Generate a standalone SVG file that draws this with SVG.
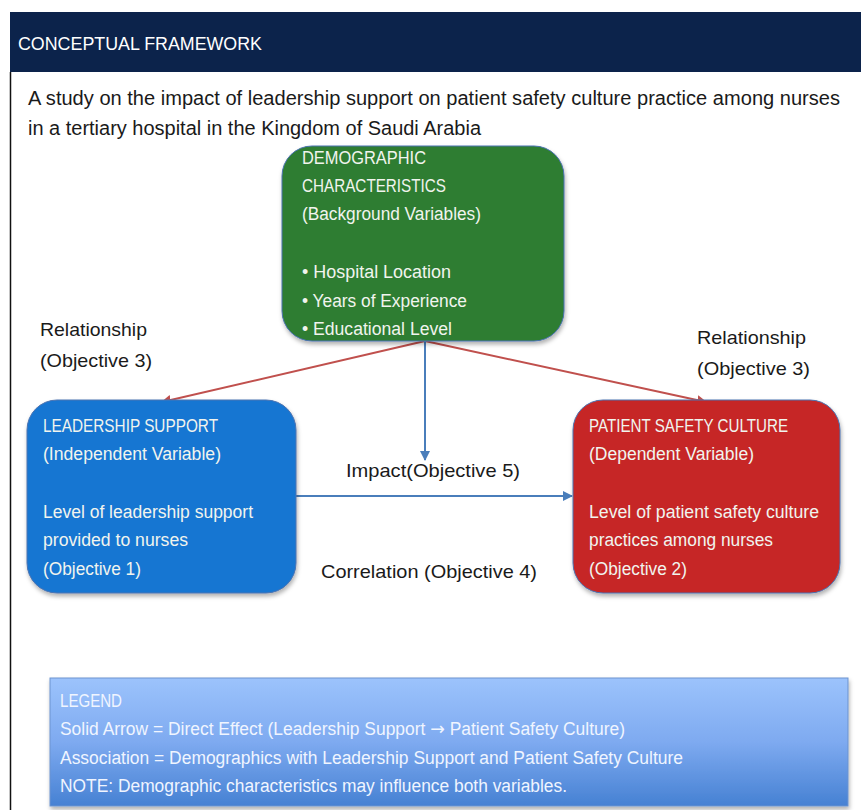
<svg xmlns="http://www.w3.org/2000/svg" width="861" height="810" viewBox="0 0 861 810">
  <defs>
    <style>
      text { font-family: "Liberation Sans", "Open Sans", sans-serif; }
      .ttl { font-size: 19px; fill: #ffffff; }
      .sub { font-size: 20px; fill: #1a1a1a; }
      .lbl { font-size: 19px; fill: #1a1a1a; }
      .box { font-size: 18px; fill: #f1f4ee; }
      .leg { font-size: 18px; fill: #f0f5ff; }
      .sym { font-family: "DejaVu Sans", sans-serif; }
      .node { stroke: #4a72b0; stroke-width: 1; }
      .red { stroke: #c0504d; stroke-width: 2; fill: none; }
      .blu { stroke: #4a7ebb; stroke-width: 2; fill: none; }
    </style>
    <marker id="ahRed" viewBox="0 0 10 10" refX="9" refY="5" markerWidth="5" markerHeight="5" orient="auto">
      <path d="M0,0 L10,5 L0,10 z" fill="#c0504d"/>
    </marker>
    <marker id="ahBlue" viewBox="0 0 10 10" refX="9" refY="5" markerWidth="5" markerHeight="5" orient="auto">
      <path d="M0,0 L10,5 L0,10 z" fill="#4a7ebb"/>
    </marker>
    <linearGradient id="legGrad" x1="0" y1="0" x2="0" y2="1">
      <stop offset="0" stop-color="#9cc3fc"/>
      <stop offset="0.5" stop-color="#7eaaf0"/>
      <stop offset="1" stop-color="#4681d3"/>
    </linearGradient>
    <filter id="shadow" x="-10%" y="-10%" width="125%" height="130%">
      <feDropShadow dx="1" dy="3" stdDeviation="2" flood-color="#000" flood-opacity="0.3"/>
    </filter>
  </defs>

  <rect x="0" y="0" width="861" height="810" fill="#ffffff"/>

  <!-- frame: header bar and left rule -->
  <g id="header">
    <rect x="10" y="12" width="851" height="60" fill="#0c234b"/>
    <line x1="10.5" y1="72" x2="10.5" y2="810" stroke="#111" stroke-width="1.5"/>
    <text class="ttl" x="18" y="50" textLength="244" lengthAdjust="spacingAndGlyphs">CONCEPTUAL FRAMEWORK</text>
  </g>

  <g id="subtitle">
    <text class="sub" x="28" y="105" textLength="812" lengthAdjust="spacingAndGlyphs">A study on the impact of leadership support on patient safety culture practice among nurses</text>
    <text class="sub" x="28" y="135" textLength="453" lengthAdjust="spacingAndGlyphs">in a tertiary hospital in the Kingdom of Saudi Arabia</text>
  </g>

  <!-- connectors -->
  <g id="connectors">
    <line class="red" x1="425" y1="341" x2="162" y2="402" marker-end="url(#ahRed)"/>
    <line class="red" x1="425" y1="341" x2="706" y2="402" marker-end="url(#ahRed)"/>
    <line class="blu" x1="425" y1="341" x2="425" y2="460" marker-end="url(#ahBlue)"/>
    <line class="blu" x1="296" y1="496" x2="572" y2="496" marker-end="url(#ahBlue)"/>
  </g>

  <g id="labels">
    <text class="lbl" x="40" y="336" textLength="107" lengthAdjust="spacingAndGlyphs">Relationship</text>
    <text class="lbl" x="40" y="367" textLength="112" lengthAdjust="spacingAndGlyphs">(Objective 3)</text>
    <text class="lbl" x="697" y="344" textLength="109" lengthAdjust="spacingAndGlyphs">Relationship</text>
    <text class="lbl" x="697" y="375" textLength="113" lengthAdjust="spacingAndGlyphs">(Objective 3)</text>
    <text class="lbl" x="346" y="477" textLength="174" lengthAdjust="spacingAndGlyphs">Impact(Objective 5)</text>
    <text class="lbl" x="321" y="578" textLength="216" lengthAdjust="spacingAndGlyphs">Correlation (Objective 4)</text>
  </g>

  <g id="demographics">
    <rect class="node" x="282" y="146" width="282" height="195" rx="30" fill="#2e7d32" filter="url(#shadow)"/>
    <text class="box" x="302" y="164" textLength="124" lengthAdjust="spacingAndGlyphs">DEMOGRAPHIC</text>
    <text class="box" x="302" y="192" textLength="144" lengthAdjust="spacingAndGlyphs">CHARACTERISTICS</text>
    <text class="box" x="302" y="220" textLength="179" lengthAdjust="spacingAndGlyphs">(Background Variables)</text>
    <text class="box" x="302" y="278" textLength="149" lengthAdjust="spacingAndGlyphs">• Hospital Location</text>
    <text class="box" x="302" y="307" textLength="165" lengthAdjust="spacingAndGlyphs">• Years of Experience</text>
    <text class="box" x="302" y="335" textLength="150" lengthAdjust="spacingAndGlyphs">• Educational Level</text>
  </g>

  <g id="leadership">
    <rect class="node" x="27" y="400" width="269" height="193" rx="30" fill="#1976d2" filter="url(#shadow)"/>
    <text class="box" x="43" y="432" textLength="175" lengthAdjust="spacingAndGlyphs">LEADERSHIP SUPPORT</text>
    <text class="box" x="43" y="460" textLength="178" lengthAdjust="spacingAndGlyphs">(Independent Variable)</text>
    <text class="box" x="43" y="518" textLength="210" lengthAdjust="spacingAndGlyphs">Level of leadership support</text>
    <text class="box" x="43" y="546" textLength="145" lengthAdjust="spacingAndGlyphs">provided to nurses</text>
    <text class="box" x="43" y="575" textLength="98" lengthAdjust="spacingAndGlyphs">(Objective 1)</text>
  </g>

  <g id="safety">
    <rect class="node" x="573" y="400" width="267" height="193" rx="30" fill="#c62828" filter="url(#shadow)"/>
    <text class="box" x="589" y="432" textLength="199" lengthAdjust="spacingAndGlyphs">PATIENT SAFETY CULTURE</text>
    <text class="box" x="589" y="460" textLength="165" lengthAdjust="spacingAndGlyphs">(Dependent Variable)</text>
    <text class="box" x="589" y="518" textLength="230" lengthAdjust="spacingAndGlyphs">Level of patient safety culture</text>
    <text class="box" x="589" y="546" textLength="184" lengthAdjust="spacingAndGlyphs">practices among nurses</text>
    <text class="box" x="589" y="575" textLength="98" lengthAdjust="spacingAndGlyphs">(Objective 2)</text>
  </g>

  <g id="legend">
    <rect x="50" y="678" width="798" height="128" fill="url(#legGrad)" stroke="#6d93cf" stroke-width="1" filter="url(#shadow)"/>
    <text class="leg" x="60" y="707" textLength="62" lengthAdjust="spacingAndGlyphs">LEGEND</text>
    <text class="leg" x="60" y="735" textLength="565" lengthAdjust="spacingAndGlyphs">Solid Arrow = Direct Effect (Leadership Support <tspan class="sym">→</tspan> Patient Safety Culture)</text>
    <text class="leg" x="60" y="764" textLength="623" lengthAdjust="spacingAndGlyphs">Association = Demographics with Leadership Support and Patient Safety Culture</text>
    <text class="leg" x="60" y="792" textLength="507" lengthAdjust="spacingAndGlyphs">NOTE: Demographic characteristics may influence both variables.</text>
  </g>
</svg>
